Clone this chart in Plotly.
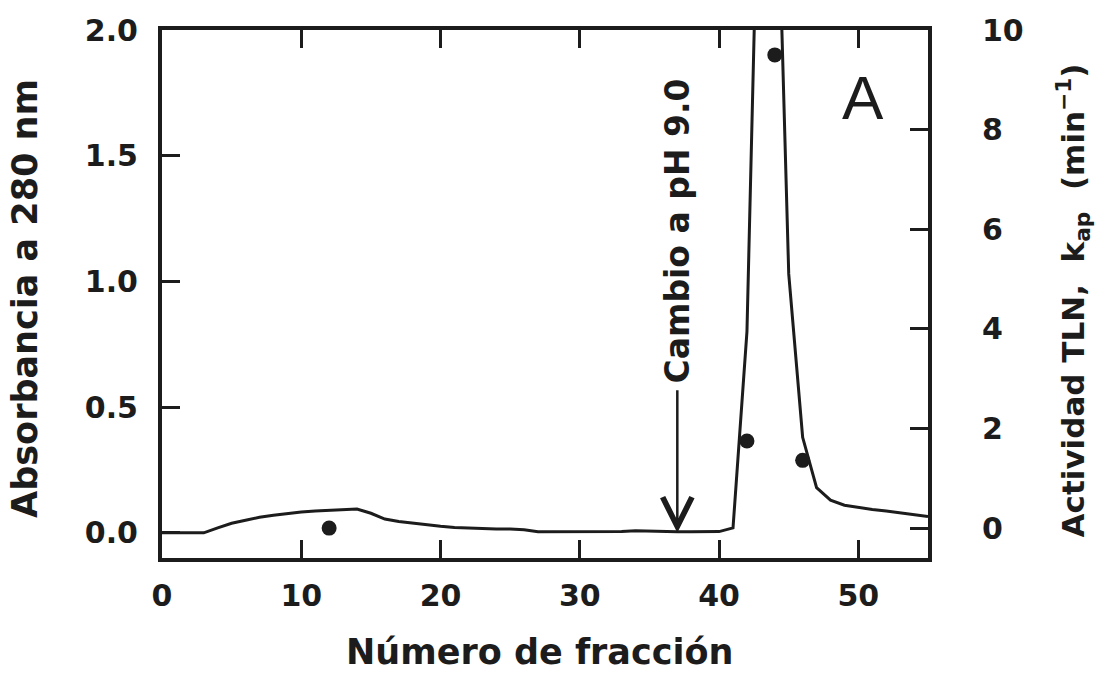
import plotly.graph_objects as go

# ---- data ----
fraction = list(range(0, 56))
absorbance = [
    0.0, 0.0, 0.0, 0.0, 0.02, 0.038, 0.05, 0.062, 0.07, 0.077,   # 0-9
    0.083, 0.087, 0.090, 0.094, 0.095, 0.078, 0.055, 0.045, 0.038, 0.032,  # 10-19
    0.026, 0.021, 0.018, 0.016, 0.015, 0.015, 0.012, 0.004, 0.004, 0.004,  # 20-29
    0.004, 0.004, 0.004, 0.005, 0.008, 0.006, 0.004, 0.004, 0.004, 0.004,  # 30-39
    0.005, 0.02, 0.80, 3.1, 3.0, 1.03, 0.38, 0.18, 0.13, 0.11,  # 40-49
    0.10, 0.093, 0.087, 0.08, 0.072, 0.065,  # 50-55
]
act_fraction = [12, 42, 44, 46]
activity = [0.0, 1.75, 9.5, 1.36]

x_ticks = [0, 10, 20, 30, 40, 50]
y_ticks = [0.0, 0.5, 1.0, 1.5, 2.0]
y2_ticks = [0, 2, 4, 6, 8, 10]

arrow_x = 37
arrow_tip = 0.0
label_y = 1.2

INK = "#1c1c1c"
FONT = "DejaVu Sans"

fig = go.Figure()
fig.add_trace(go.Scatter(x=fraction, y=absorbance, mode="lines",
                         line=dict(color=INK, width=3), showlegend=False,
                         yaxis="y"))
fig.add_trace(go.Scatter(x=act_fraction, y=activity, mode="markers",
                         marker=dict(color=INK, size=15), showlegend=False,
                         yaxis="y2", cliponaxis=False))

tickfont = dict(family=FONT, size=30, color=INK, weight="bold")
titlefont = dict(family=FONT, size=35, color=INK, weight="bold")

fig.update_layout(
    width=1105, height=677,
    margin=dict(l=162, r=177, t=30, b=119),
    paper_bgcolor="white", plot_bgcolor="white",
    xaxis=dict(range=[0, 55], tickvals=x_ticks, ticks="inside", ticklen=18,
               tickwidth=3, tickcolor=INK, showline=True, linewidth=4,
               linecolor=INK, mirror="ticks", showgrid=False, zeroline=False,
               tickfont=tickfont, ticklabelstandoff=8),
    yaxis=dict(range=[-0.1, 2.0], tickvals=y_ticks, tickformat=".1f",
               ticks="inside", ticklen=18, tickwidth=3, tickcolor=INK,
               showline=True, linewidth=4, linecolor=INK, showgrid=False,
               zeroline=False, tickfont=tickfont, ticklabelstandoff=14),
    yaxis2=dict(range=[-0.6, 10], tickvals=y2_ticks, overlaying="y",
                side="right", ticks="inside", ticklen=18, tickwidth=3,
                tickcolor=INK, showline=True, linewidth=4, linecolor=INK,
                showgrid=False, zeroline=False, tickfont=tickfont,
                ticklabelstandoff=44),
)

# axis titles
fig.add_annotation(text="Número de fracción", xref="paper", yref="paper",
                   x=0.493, y=-0.178, showarrow=False, font=titlefont,
                   xanchor="center", yanchor="middle")
fig.add_annotation(text="Absorbancia a 280 nm", xref="paper", yref="paper",
                   x=-0.178, y=0.492, showarrow=False, font=titlefont,
                   textangle=-90, xanchor="center", yanchor="middle")
fig.add_annotation(text="Actividad TLN,  k<sub>ap</sub>  (min<sup>−1</sup>)",
                   xref="paper", yref="paper",
                   x=1.19, y=0.487, showarrow=False,
                   font=dict(family=FONT, size=31, color=INK, weight="bold"),
                   textangle=-90, xanchor="center", yanchor="middle")

# pH change label with arrow
fig.add_annotation(text="Cambio a pH 9.0", x=arrow_x, y=arrow_tip,
                   ax=arrow_x, ay=label_y, xref="x", yref="y",
                   axref="x", ayref="y", showarrow=True, arrowhead=5,
                   arrowsize=2.3, arrowwidth=2.5, arrowcolor=INK,
                   startstandoff=6, textangle=-90, borderpad=0,
                   font=dict(family=FONT, size=33, color=INK, weight="bold"))

# panel label
fig.add_annotation(text="A", x=0.915, y=0.872, xref="paper", yref="paper",
                   showarrow=False,
                   font=dict(family="Liberation Sans", size=62, color=INK),
                   xanchor="center", yanchor="middle")

fig.write_html("out.html")
